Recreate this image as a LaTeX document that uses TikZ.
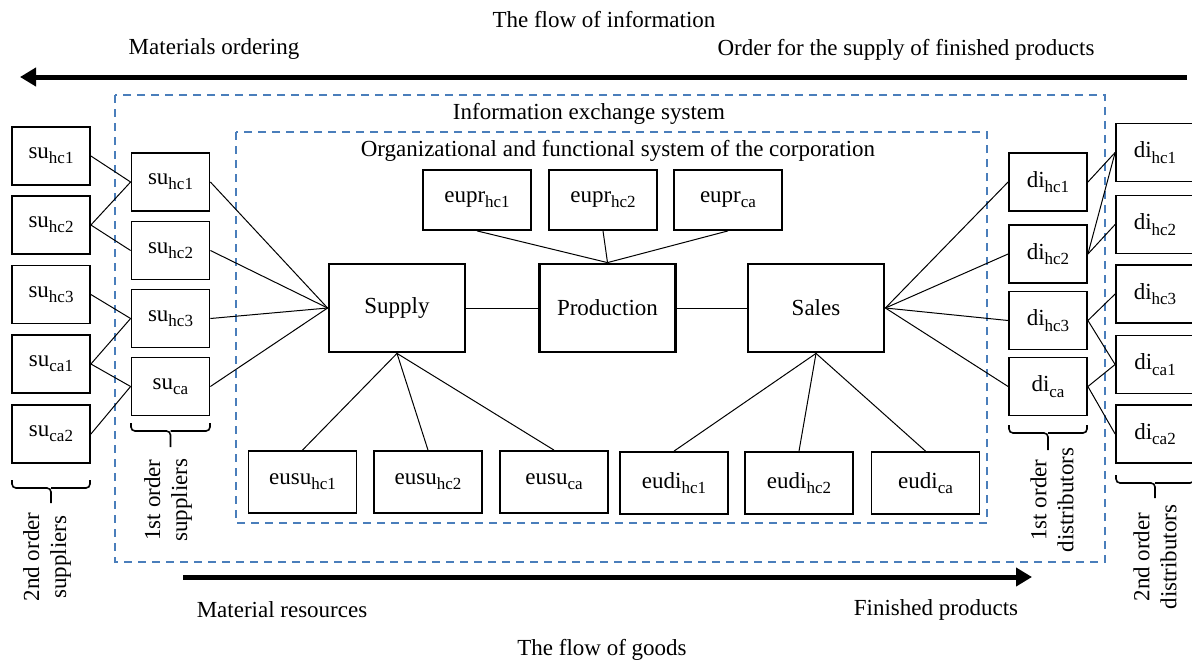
\documentclass[tikz,border=0pt]{standalone}
\usepackage{fontspec}
\setmainfont{Liberation Serif}
\usetikzlibrary{arrows.meta}
\definecolor{dashblue}{RGB}{74,126,187}
\newcommand{\lowidx}[1]{\raisebox{-0.5ex}{\fontsize{8.5}{9}\selectfont #1}}

\begin{document}
\begin{tikzpicture}[x=0.5pt, y=-0.5pt,
    every node/.style={font=\fontsize{11.5}{13.5}\selectfont},
    unit/.style={draw, line width=0.9pt, minimum width=39pt, minimum height=29pt, inner sep=0pt},
    eubox/.style={draw, line width=0.9pt, minimum width=54pt, minimum height=31pt, inner sep=0pt},
    mainbox/.style={draw, line width=1.4pt, minimum width=68pt, minimum height=44pt, inner sep=0pt},
    link/.style={black, line width=0.5pt},
    sysframe/.style={dashblue, line width=0.8pt, dash pattern=on 4pt off 3pt},
    flowarrow/.style={line width=2.5pt, -{Triangle[length=8pt,width=9pt]}},
    bracket/.style={line width=0.8pt, rounded corners=2pt},
    grouplabel/.style={rotate=90, align=center}]
    \useasboundingbox (0,0) rectangle (1192,664);

    % Draw the system frames
    \draw[sysframe] (115,95) rectangle (1105,562);
    \draw[sysframe] (236,132) rectangle (987,523);
    \node (infosys) at (589,114) {Information exchange system};
    \node (orgsys) at (618,151) {Organizational and functional system of the corporation};

    % Draw the flows
    \coordinate (infostart) at (1187,77);
    \coordinate (infoend) at (20,77);
    \draw[flowarrow] (infostart) -- (infoend);
    \coordinate (goodsstart) at (183,577);
    \coordinate (goodsend) at (1032,577);
    \draw[flowarrow] (goodsstart) -- (goodsend);
    \node (infoflow) at (604,20) {The flow of information};
    \node (ordering) at (214,49) {Materials ordering};
    \node (supplyorder) at (906,50) {Order for the supply of finished products};
    \node (resources) at (282,610) {Material resources};
    \node (finished) at (936,610) {Finished products};
    \node (goodsflow) at (602,650) {The flow of goods};

    % Draw the suppliers
    \foreach \nm/\y/\lb in {s2a/156/hc1, s2b/225/hc2, s2c/294.5/hc3, s2d/364/ca1, s2e/434/ca2}
        \node[unit] (\nm) at (51,\y) {su\lowidx{\lb}};
    \foreach \nm/\y/\lb in {s1a/182/hc1, s1b/250.5/hc2, s1c/318.5/hc3, s1d/386.5/ca}
        \node[unit] (\nm) at (170.5,\y) {su\lowidx{\lb}};

    % Draw the distributors
    \foreach \nm/\y/\lb in {d1a/182/hc1, d1b/254/hc2, d1c/320.5/hc3, d1d/386.5/ca}
        \node[unit] (\nm) at (1048,\y) {di\lowidx{\lb}};
    \foreach \nm/\y/\lb in {d2a/152.5/hc1, d2b/224.5/hc2, d2c/294/hc3, d2d/364.5/ca1, d2e/434/ca2}
        \node[unit] (\nm) at (1155,\y) {di\lowidx{\lb}};

    % Draw the corporation units
    \node[mainbox] (supply) at (397,308) {Supply};
    \node[mainbox] (production) at (607.5,308) {Production};
    \node[mainbox] (sales) at (816,308) {Sales};
    \foreach \nm/\x/\lb in {eupr1/477/hc1, eupr2/603/hc2, eupr3/728/ca}
        \node[eubox, minimum height=30pt] (\nm) at (\x,200) {eupr\lowidx{\lb}};
    \foreach \nm/\x/\lb in {eusu1/302.5/hc1, eusu2/428/hc2, eusu3/554/ca}
        \node[eubox] (\nm) at (\x,482) {eusu\lowidx{\lb}};
    \foreach \nm/\x/\lb in {eudi1/674/hc1, eudi2/799/hc2, eudi3/925.5/ca}
        \node[eubox] (\nm) at (\x,483) {eudi\lowidx{\lb}};

    % Connect the units
    \foreach \a/\b in {s2a/s1a, s2b/s1a, s2b/s1b, s2c/s1c, s2d/s1c, s2d/s1d, s2e/s1d}
        \draw[link] (\a.east) -- (\b.west);
    \foreach \a in {s1a, s1b, s1c, s1d}
        \draw[link] (\a.east) -- (supply.west);
    \foreach \b in {d1a, d1b, d1c, d1d}
        \draw[link] (sales.east) -- (\b.west);
    \foreach \a/\b in {d1a/d2a, d1b/d2a, d1b/d2b, d1c/d2c, d1c/d2d, d1d/d2d, d1d/d2e}
        \draw[link] (\a.east) -- (\b.west);
    \draw[link] (supply) -- (production);
    \draw[link] (production) -- (sales);
    \foreach \a in {eupr1, eupr2, eupr3}
        \draw[link] (\a.south) -- (production.north);
    \foreach \b in {eusu1, eusu2, eusu3}
        \draw[link] (supply.south) -- (\b.north);
    \foreach \b in {eudi1, eudi2, eudi3}
        \draw[link] (sales.south) -- (\b.north);

    % Brackets and group labels
    \draw[bracket] (12,480) |- (51,488) -- (51,503);
    \draw[bracket] (90,480) |- (51,488);
    \draw[bracket] (131,423) |- (170.5,431) -- (170.5,447);
    \draw[bracket] (210,423) |- (170.5,431);
    \draw[bracket] (1009,425) |- (1048,433) -- (1048,450);
    \draw[bracket] (1087,425) |- (1048,433);
    \draw[bracket] (1116,475) |- (1155,483) -- (1155,498);
    \draw[bracket] (1194,475) |- (1155,483);
    \node[grouplabel] (sup2lbl) at (47,557) {2nd order\\suppliers};
    \node[grouplabel] (sup1lbl) at (168,500) {1st order\\suppliers};
    \node[grouplabel] (dis1lbl) at (1052,500) {1st order\\distributors};
    \node[grouplabel] (dis2lbl) at (1155,557) {2nd order\\distributors};
\end{tikzpicture}
\end{document}
